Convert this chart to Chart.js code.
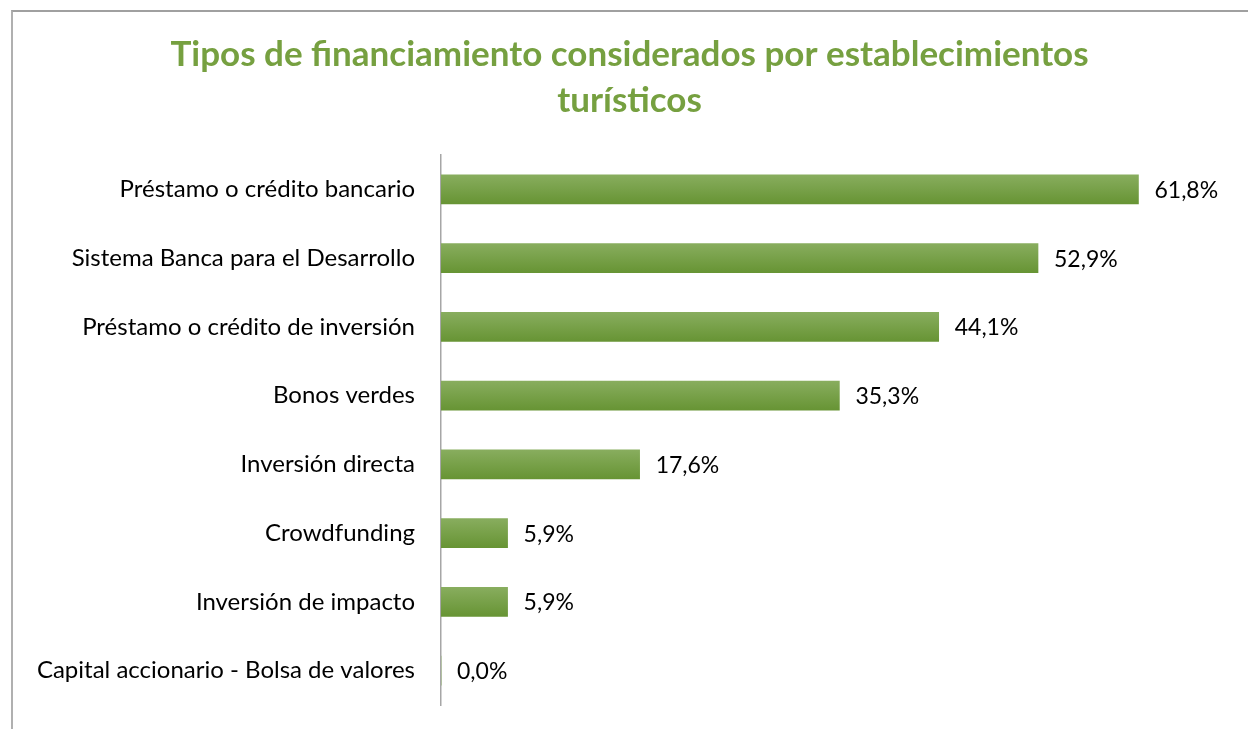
<!DOCTYPE html>
<html>
<head>
<meta charset="utf-8">
<script src="https://cdn.jsdelivr.net/npm/chart.js@4"></script>
<style>
  html, body { margin:0; padding:0; background:#fff; overflow:hidden; }
  .frame { position:absolute; left:11px; top:10px; width:1300px; height:800px; border-top:2px solid #a0a0a0; border-left:2px solid #b0b0b0; }
  .wrap { position:absolute; left:0; top:0; width:1248px; height:729px; }
</style>
</head>
<body>
<div class="frame"></div>
<div class="wrap"><canvas id="finChart" width="1248" height="729"></canvas></div>
<script>
const categories = [
  'Préstamo o crédito bancario',
  'Sistema Banca para el Desarrollo',
  'Préstamo o crédito de inversión',
  'Bonos verdes',
  'Inversión directa',
  'Crowdfunding',
  'Inversión de impacto',
  'Capital accionario - Bolsa de valores'
];
const values = [61.8, 52.9, 44.1, 35.3, 17.6, 5.9, 5.9, 0.0];
const titleLines = ['Tipos de financiamiento considerados por establecimientos', 'turísticos'];

const FONT = "Lato, 'Open Sans', sans-serif";
const BAR_H = 29;

// value labels next to each bar, "61,8%" style
const valueLabels = {
  id: 'valueLabels',
  afterDatasetsDraw(chart) {
    const ctx = chart.ctx;
    const meta = chart.getDatasetMeta(0);
    ctx.save();
    ctx.font = '23px ' + FONT;
    ctx.fillStyle = '#000';
    ctx.textBaseline = 'middle';
    ctx.textAlign = 'left';
    meta.data.forEach((bar, i) => {
      const txt = values[i].toFixed(1).replace('.', ',') + '%';
      ctx.fillText(txt, bar.x + 16, bar.y + 1);
    });
    ctx.restore();
  }
};

function barFill(c) {
  const chart = c.chart;
  const ys = chart.scales.y;
  if (!ys || c.dataIndex == null) return '#76a040';
  const cy = ys.getPixelForValue(c.dataIndex);
  if (!isFinite(cy)) return '#76a040';
  const g = chart.ctx.createLinearGradient(0, cy - BAR_H / 2, 0, cy + BAR_H / 2);
  g.addColorStop(0, '#88ad5e');
  g.addColorStop(1, '#679434');
  return g;
}

new Chart(document.getElementById('finChart'), {
  type: 'bar',
  data: {
    labels: categories,
    datasets: [{
      data: values,
      backgroundColor: barFill,
      borderWidth: 0,
      barThickness: BAR_H
    }]
  },
  options: {
    indexAxis: 'y',
    responsive: false,
    animation: false,
    layout: { padding: { left: 28, right: 17, top: 0, bottom: 24 } },
    scales: {
      x: {
        display: false,
        min: 0,
        max: 70
      },
      y: {
        grid: { display: false, drawTicks: false },
        border: { display: true, color: '#a6a6a6', width: 1.5 },
        ticks: { color: '#000', font: { family: FONT, size: 24 }, padding: 26 },
        afterFit(scale) {
          scale.width = 413;
          scale.paddingTop = 0;
          scale.paddingBottom = 0;
        }
      }
    },
    plugins: {
      legend: { display: false },
      tooltip: { enabled: false },
      title: {
        display: true,
        text: titleLines,
        color: '#76a040',
        font: { family: FONT, size: 35, weight: 'bold', lineHeight: 1.3 },
        padding: { top: 32, bottom: 32 }
      }
    }
  },
  plugins: [valueLabels]
});
</script>
</body>
</html>
